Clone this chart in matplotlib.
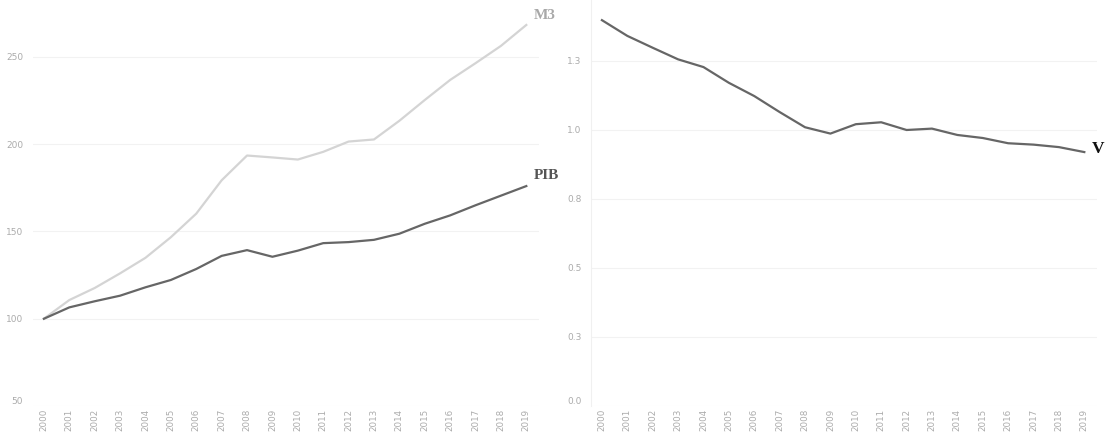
import numpy as np
import matplotlib
matplotlib.use("Agg")
import matplotlib.pyplot as plt
import matplotlib.transforms as mtransforms

# dados (índice 2000 = 100)
anos = list(range(2000, 2020))
pib = [100, 106.5, 110, 113.2, 118, 122.2, 128.5, 136, 139.3, 135.5,
       139, 143.3, 143.9, 145.2, 148.7, 154.4, 159.2, 165, 170.5, 176]
m3 = [100, 110.7, 117.6, 126, 134.9, 146.7, 160.2, 179.3, 193.5, 192.4,
      191.2, 195.6, 201.5, 202.7, 213.4, 225.3, 236.8, 246.4, 256.3, 268.3]
v = [1.398, 1.341, 1.298, 1.256, 1.228, 1.171, 1.123, 1.065, 1.010, 0.987,
     1.021, 1.028, 1.000, 1.005, 0.982, 0.971, 0.952, 0.947, 0.938, 0.920]

ticks_esq = [50, 100, 150, 200, 250]
ticks_dir = [0, 0.25, 0.5, 0.75, 1.0, 1.25]
labels_dir = ["0.0", "0.3", "0.5", "0.8", "1.0", "1.3"]

cor_tick = "#ababab"
W, H = 1107, 432
fig = plt.figure(figsize=(W / 100, H / 100), dpi=100)

ax1 = fig.add_axes([33 / W, (H - 406) / H, 506 / W, 406 / H])
ax2 = fig.add_axes([591 / W, (H - 406) / H, 506 / W, 406 / H])

for ax in (ax1, ax2):
    for s in ax.spines.values():
        s.set_visible(False)
    ax.tick_params(axis="y", length=0, labelsize=6.5, labelcolor=cor_tick, pad=7)
    ax.tick_params(axis="x", length=0, labelsize=6.3, labelcolor=cor_tick, pad=2)
    ax.set_xticks(anos)
    ax.set_xticklabels([str(a) for a in anos], rotation=90)
    ax.set_xlim(1999.57, 2019.5)
    ax.grid(axis="y", color="#f2f2f2", lw=0.8)
    ax.set_axisbelow(True)

ax2.spines["left"].set_visible(True)
ax2.spines["left"].set_color("#f0f0f0")

ax1.plot(anos, m3, color="#d4d4d4", lw=1.6)
ax1.plot(anos, pib, color="#666666", lw=1.6)
ax1.set_ylim(50, 282.6)
ax1.set_yticks(ticks_esq)
ax1.text(2019.3, m3[-1] + 5.5, "M3", family="Liberation Serif", fontsize=11,
         color="#a8a8a8", fontweight="bold", va="center", ha="left", clip_on=False)
ax1.text(2019.3, pib[-1] + 6, "PIB", family="Liberation Serif", fontsize=11,
         color="#555555", fontweight="bold", va="center", ha="left", clip_on=False)

ax2.plot(anos, v, color="#666666", lw=1.6)
ax2.set_ylim(0, 1.471)
ax2.set_yticks(ticks_dir)
ax2.set_yticklabels(labels_dir)
ax2.text(2019.3, v[-1] + 0.012, "V", family="Liberation Serif", fontsize=12.5,
         color="#111111", fontweight="bold", va="center", ha="left", clip_on=False)

# rótulo inferior do eixo y fica um pouco acima da base, como no original
desloc = mtransforms.ScaledTranslation(0, 6 / 100, fig.dpi_scale_trans)
for ax in (ax1, ax2):
    lab = ax.get_yticklabels()[0]
    lab.set_transform(lab.get_transform() + desloc)

fig.savefig("out.png", dpi=100, facecolor="white")
